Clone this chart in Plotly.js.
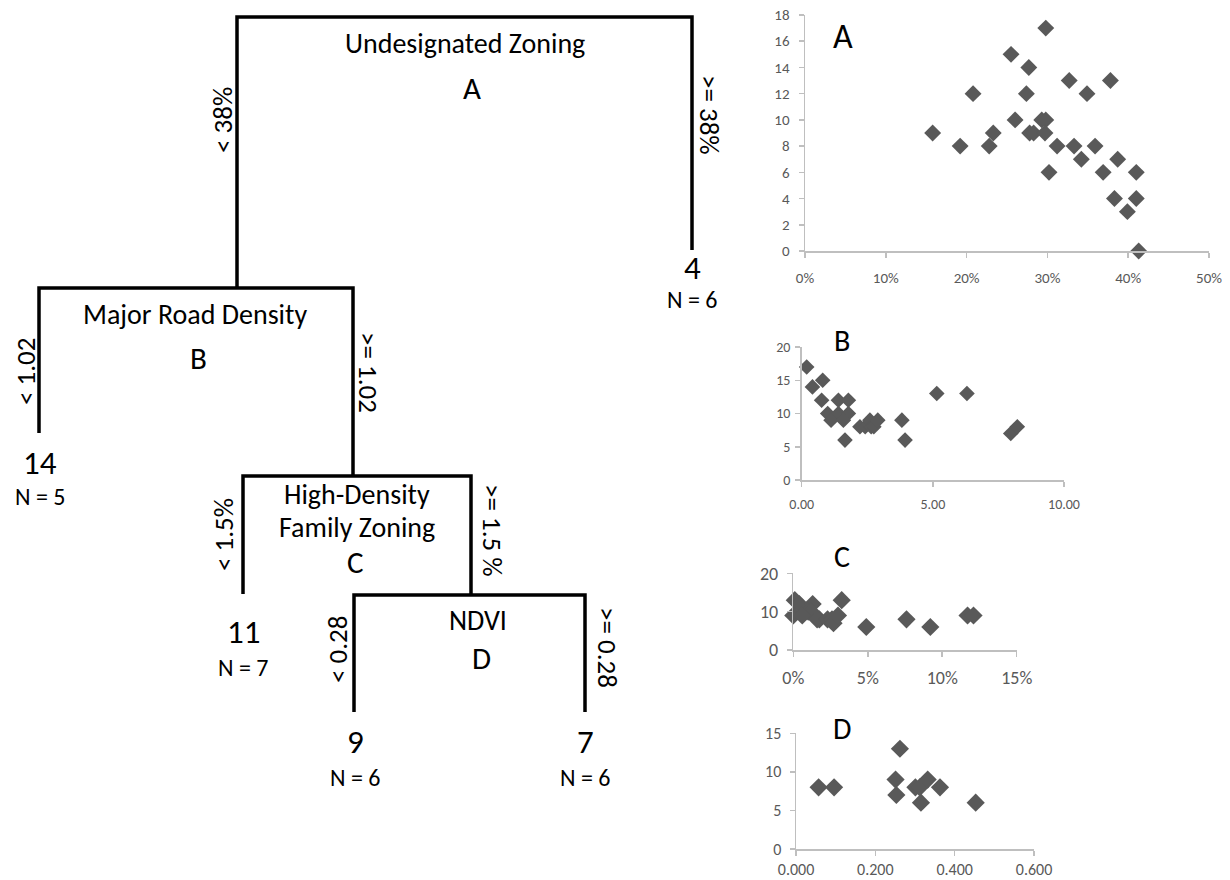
<!DOCTYPE html>
<html>
<head>
<meta charset="utf-8">
<script src="https://cdn.plot.ly/plotly-3.0.1.min.js"></script>
<style>html,body{margin:0;padding:0;background:#fff;}#chart{width:1230px;height:880px;}</style>
</head>
<body>
<div id="chart"></div>
<script>
// ---------------- DATA ----------------
// Regression tree
const nodeNames = ['Undesignated Zoning', 'Major Road Density', 'High-Density<br>Family Zoning', 'NDVI'];
const nodeLetters = ['A', 'B', 'C', 'D'];
const leftConds = ['< 38%', '< 1.02', '< 1.5%', '< 0.28'];
const rightConds = ['>= 38%', '>= 1.02', '>= 1.5 %', '>= 0.28'];
const leafMeans = [4, 14, 11, 9, 7];
const leafN = [6, 5, 7, 6, 6];

// Scatter A: Undesignated zoning share vs value
const aX = [0.158, 0.192, 0.208, 0.228, 0.233, 0.255, 0.260, 0.277, 0.274, 0.278, 0.283, 0.293, 0.298, 0.297, 0.298,
            0.302, 0.312, 0.327, 0.333, 0.342, 0.349, 0.359, 0.369, 0.378, 0.383, 0.387, 0.399, 0.410, 0.410, 0.413];
const aY = [9, 8, 12, 8, 9, 15, 10, 14, 12, 9, 9, 10, 10, 9, 17,
            6, 8, 13, 8, 7, 12, 8, 6, 13, 4, 7, 3, 6, 4, 0];

// Scatter B: Major road density vs value
const bX = [0.19, 0.41, 0.80, 0.76, 0.99, 1.12, 1.40, 1.78, 1.40, 1.78, 1.59, 1.65,
            2.22, 2.42, 2.60, 2.65, 2.75, 2.90, 3.82, 3.94, 5.15, 6.30, 7.97, 8.22];
const bY = [17, 14, 15, 12, 10, 9, 12, 12, 10, 10, 9, 6,
            8, 8, 9, 8, 8, 9, 9, 6, 13, 13, 7, 8];

// Scatter C: High-density family zoning share vs value
const cX = [0.001, 0.004, 0.000, 0.013, 0.010, 0.012, 0.006,
            0.0175, 0.016, 0.023, 0.026, 0.027, 0.030, 0.0325, 0.049, 0.076, 0.092, 0.117, 0.121];
const cY = [13, 12, 9, 12, 10, 10, 9,
            8, 8, 8, 8, 7, 9, 13, 6, 8, 6, 9, 9];

// Scatter D: NDVI vs value
const dX = [0.057, 0.096, 0.251, 0.253, 0.262, 0.301, 0.312, 0.315, 0.332, 0.363, 0.453];
const dY = [8, 8, 9, 7, 13, 8, 8, 6, 9, 8, 6];

// ---------------- LAYOUT GEOMETRY (pixels) ----------------
const W = 1230, H = 880;
const FONT = 'Carlito, Lato, sans-serif';
const TITLE_LINE_GAP = 33;
const treeNodes = [ // left x, right x, top y, left bottom, right bottom
  {l: 237, r: 692, t: 17, lb: 288, rb: 250,
   title: [465, 43], letter: [472, 88], lc: [222, 120], rc: [710, 115]},
  {l: 39, r: 353, t: 288, lb: 433, rb: 476,
   title: [195, 314], letter: [198, 358], lc: [25, 372], rc: [369, 372]},
  {l: 243, r: 471, t: 476, lb: 594, rb: 595,
   title: [357, 511], letter: [355, 562], lc: [223, 535], rc: [493, 530]},
  {l: 354, r: 585, t: 595, lb: 712, rb: 712,
   title: [478, 620], letter: [481, 658], lc: [337, 650], rc: [608, 647]}
];
const leafPos = [ // x, value y, N y
  [692, 268, 299], [40, 463, 496], [243, 632, 667], [355, 742, 777], [585, 742, 777]
];

// scatter panels: pixel boxes [x0, x1, yBottom, yTop]
function dom(x0, x1, yb, yt) {
  return {x: [x0 / W, x1 / W], y: [1 - yb / H, 1 - yt / H]};
}
const panels = [
  {box: dom(805, 1209, 251, 15), xr: [0, 0.5], xd: 0.1, xf: '.0%', yr: [0, 18], yd: 2, fs: 15, xs: 7, ys: 6, ms: 13, letter: [843, 36]},
  {box: dom(801.7, 1064, 480, 347), xr: [0, 10], xd: 5, xf: '.2f', yr: [0, 20], yd: 5, fs: 14, xs: 6, ys: 2, ms: 12, letter: [842, 340]},
  {box: dom(793.3, 1016.7, 650, 573.3), xr: [0, 0.15], xd: 0.05, xf: '.0%', yr: [0, 20], yd: 10, fs: 18, xs: 6, ys: 5, ms: 14, letter: [842, 556]},
  {box: dom(796, 1034, 849, 733.3), xr: [0, 0.6], xd: 0.2, xf: '.3f', yr: [0, 15], yd: 5, fs: 16, xs: 0, ys: 5, ms: 14, letter: [842, 728]}
];
const scatterData = [[aX, aY], [bX, bY], [cX, cY], [dX, dY]];

// ---------------- BUILD ----------------
const traces = [];
const layout = {
  width: W, height: H,
  margin: {l: 0, r: 0, t: 0, b: 0},
  paper_bgcolor: '#ffffff', plot_bgcolor: 'rgba(0,0,0,0)',
  showlegend: false,
  font: {family: FONT, color: '#000'},
  annotations: []
};

panels.forEach((p, i) => {
  const n = i + 1;
  const sfx = n === 1 ? '' : String(n);
  traces.push({
    type: 'scatter', mode: 'markers',
    x: scatterData[i][0], y: scatterData[i][1],
    xaxis: 'x' + sfx, yaxis: 'y' + sfx,
    marker: {symbol: 'diamond', size: p.ms, color: '#595959', line: {width: 0}},
    cliponaxis: false, hoverinfo: 'skip'
  });
  const axisCommon = {
    showgrid: false, zeroline: false, showline: true, linecolor: '#bfbfbf', linewidth: 1.5,
    ticks: 'outside', ticklen: 5, tickcolor: '#bfbfbf', tickwidth: 1.5,
    tickfont: {family: FONT, size: p.fs, color: '#595959'}, fixedrange: true
  };
  layout['xaxis' + sfx] = Object.assign({}, axisCommon, {
    domain: p.box.x, range: p.xr, dtick: p.xd, tick0: 0, tickformat: p.xf,
    anchor: 'y' + sfx, ticklabelstandoff: p.xs
  });
  layout['yaxis' + sfx] = Object.assign({}, axisCommon, {
    domain: p.box.y, range: p.yr, dtick: p.yd, tick0: 0,
    anchor: 'x' + sfx, ticklabelstandoff: p.ys
  });
  layout.annotations.push({
    xref: 'x5', yref: 'y5', x: p.letter[0], y: p.letter[1], text: nodeLetters[i],
    showarrow: false, xanchor: 'center', yanchor: 'middle',
    font: {family: FONT, size: i === 0 ? 34 : 30, color: '#000'}
  });
});

// full-page overlay axes in pixel units for the tree and panel letters
layout.xaxis5 = {domain: [0, 1], range: [0, W], visible: false, fixedrange: true, anchor: 'y5'};
layout.yaxis5 = {domain: [0, 1], range: [H, 0], visible: false, fixedrange: true, anchor: 'x5'};

const lx = [], ly = [];
treeNodes.forEach(nd => {
  lx.push(nd.l, nd.l, nd.r, nd.r, null);
  ly.push(nd.lb, nd.t, nd.t, nd.rb, null);
});
traces.push({
  type: 'scatter', mode: 'lines', x: lx, y: ly, xaxis: 'x5', yaxis: 'y5',
  line: {color: '#000', width: 3.5}, hoverinfo: 'skip', cliponaxis: false
});

function ann(x, y, text, size, angle) {
  layout.annotations.push({
    xref: 'x5', yref: 'y5', x: x, y: y, text: text, showarrow: false,
    xanchor: 'center', yanchor: 'middle', textangle: angle || 0,
    font: {family: FONT, size: size, color: '#000'}
  });
}
treeNodes.forEach((nd, i) => {
  const lines = nodeNames[i].split('<br>');
  lines.forEach((ln, k) => {
    const off = (k - (lines.length - 1) / 2) * TITLE_LINE_GAP;
    ann(nd.title[0], nd.title[1] + off, ln, 28);
  });
  ann(nd.letter[0], nd.letter[1], nodeLetters[i], 31);
  ann(nd.lc[0], nd.lc[1], leftConds[i], 27, -90);
  ann(nd.rc[0], nd.rc[1], rightConds[i], 27, 90);
});
leafPos.forEach((lp, i) => {
  ann(lp[0], lp[1], String(leafMeans[i]), 33);
  ann(lp[0], lp[2], 'N = ' + leafN[i], 24);
});

Plotly.newPlot('chart', traces, layout, {displayModeBar: false, staticPlot: true});
</script>
</body>
</html>
